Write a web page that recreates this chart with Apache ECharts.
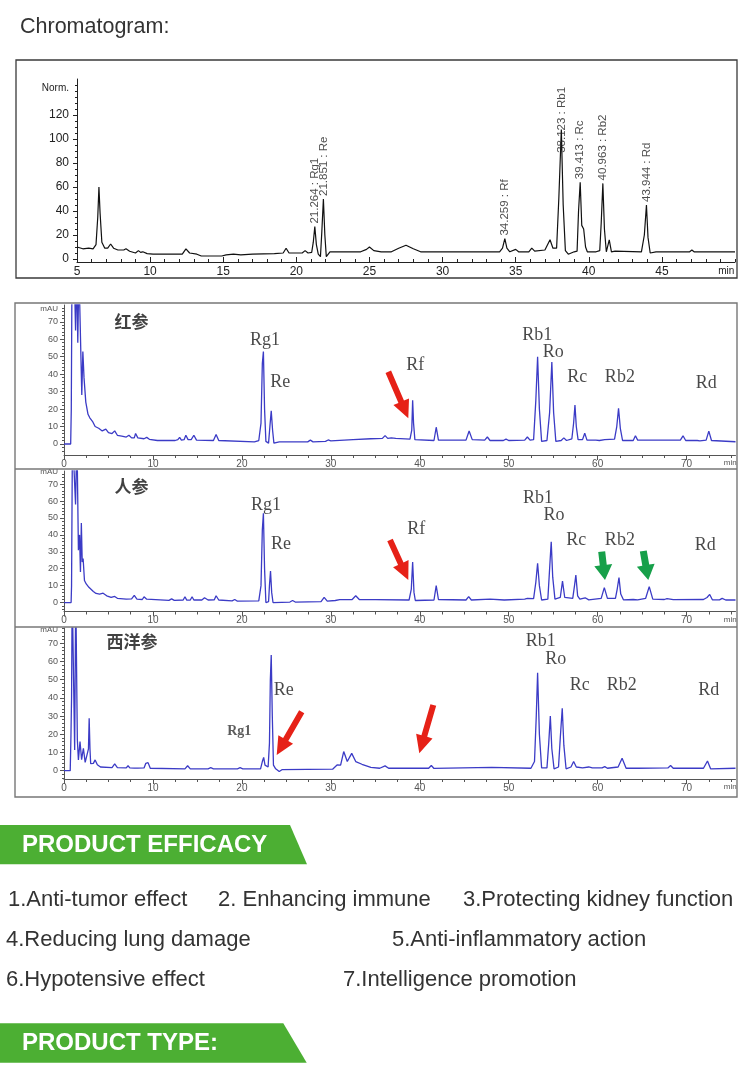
<!DOCTYPE html>
<html>
<head>
<meta charset="utf-8">
<script src="https://cdn.jsdelivr.net/npm/echarts@6/dist/echarts.min.js"></script>
<style>
html,body{margin:0;padding:0;background:#fff;}
#c{width:750px;height:1072px;}
</style>
</head>
<body>
<div id="c"></div>
<script>
// ---------- DATA ----------
// Top chromatogram (Norm.)
const topTrace = [[5,10],[5.4,8.5],[5.8,9],[6.1,8.5],[6.3,12],[6.42,35],[6.5,60],[6.58,38],[6.7,14],[6.9,9],[7.1,9],[7.3,12.5],[7.5,9],[7.8,7.5],[8.2,7.5],[8.35,8.5],[8.6,6.5],[9.0,5],[9.2,7],[9.35,5.5],[9.5,6],[9.8,4.5],[10.2,4],[12.2,4],[12.45,8.5],[12.7,5],[13.2,4],[13.5,2.5],[14.9,2.5],[15.2,3.5],[15.7,4],[16.2,3.5],[17,4],[18.5,4.5],[19.1,5],[19.3,9],[19.5,5],[20.4,5],[20.6,7],[20.8,5],[21.05,5.5],[21.16,14],[21.264,27],[21.37,12],[21.5,4],[21.65,2],[21.74,22],[21.851,50],[21.95,20],[22.05,2],[22.3,6],[24.4,6],[24.8,8],[25.0,10],[25.3,7],[25.8,6],[26.5,6],[27.0,9],[27.5,11.5],[28.0,8.5],[28.5,6],[33.9,6],[34.1,9],[34.259,17],[34.4,9],[34.6,6],[35.0,8],[35.2,6],[35.9,6],[36.1,9],[36.3,6.5],[37,7.5],[37.35,16],[37.55,9],[37.8,9],[37.95,50],[38.123,108],[38.25,45],[38.4,7],[38.6,4],[39.0,6],[39.2,6.5],[39.3,40],[39.413,64],[39.52,28],[39.65,25],[39.78,10],[39.9,6],[40.5,6],[40.75,7],[40.85,30],[40.963,63],[41.07,25],[41.2,6],[41.4,16],[41.55,6],[41.8,6.5],[43.6,6],[43.8,20],[43.944,45],[44.05,18],[44.2,5],[44.6,6],[46.9,6],[47.05,7.5],[47.2,6],[50,6]];
const topPeakTimes = [21.264, 21.851, 34.259, 38.123, 39.413, 40.963, 43.944];
const topPeakNames = ['Rg1', 'Re', 'Rf', 'Rb1', 'Rc', 'Rb2', 'Rd'];
const topPeakHeights = [27, 50, 17, 108, 64, 63, 45];
const topXTicks = [5, 10, 15, 20, 25, 30, 35, 40, 45];
const topYTicks = [0, 20, 40, 60, 80, 100, 120];

// 红参
const hongTrace = [[0,0],[0.75,0],[0.82,20],[0.9,100],[1.15,100],[1.3,65],[1.42,100],[1.55,58],[1.68,100],[1.85,100],[2.0,28],[2.12,53],[2.25,38],[2.45,24],[2.7,17],[2.9,15],[3.1,14],[3.2,13],[3.5,10],[3.9,9],[4.3,7.5],[4.7,8.5],[5.0,6.5],[5.4,6],[5.7,7.5],[6.0,5],[6.5,4.5],[7.0,4],[7.3,5],[7.6,3.5],[7.9,3.5],[8.05,6],[8.3,3.5],[9.0,3],[9.3,3.8],[9.6,2.7],[10.5,2],[12.5,2],[12.8,2.5],[13.0,3.8],[13.2,2.2],[13.5,2.5],[13.7,5],[13.95,2.5],[14.3,2.5],[14.6,5],[14.9,2.2],[16.8,2],[17.1,5.5],[17.4,2],[21.4,1.2],[21.9,2],[22.15,12],[22.3,46],[22.42,53],[22.55,20],[22.7,1.5],[23.0,0.5],[23.15,10],[23.3,19],[23.45,8],[23.6,0.5],[24.2,1.2],[27.4,1.2],[27.7,2.2],[28.0,1.2],[29.4,1.5],[29.7,2.3],[30,1.8],[32.5,2.5],[34.5,3],[35.8,3.2],[36.1,4.8],[36.4,3.2],[36.8,3.5],[37.0,4.2],[37.3,3.2],[38.9,2.8],[39.1,8],[39.2,25],[39.3,12],[39.45,2.5],[41.6,2],[41.85,9.6],[42.1,2.2],[45.2,2.2],[45.55,7.4],[45.9,2.5],[47.3,2.2],[47.6,4],[47.9,2],[49.4,2],[49.7,2.8],[50,2],[51.8,2.2],[52.1,4],[52.4,2.2],[52.8,2.5],[53.05,25],[53.25,50],[53.45,20],[53.7,1.5],[54.3,2],[54.6,18],[54.85,47],[55.05,18],[55.3,1.5],[55.9,2],[56.2,3.5],[56.5,2],[57.1,3],[57.3,12],[57.45,22.3],[57.6,10],[57.8,2.5],[58.3,2.5],[58.55,6.2],[58.8,2.2],[59.8,2.2],[60.0,3.2],[60.2,2],[60.8,2.5],[61.9,2.8],[62.15,10],[62.35,20.4],[62.55,9],[62.8,2],[64.0,2],[64.25,4.7],[64.5,2.2],[69.3,2.2],[69.6,4.7],[69.9,2],[71.2,2],[71.35,3],[71.5,1.8],[72.2,2.2],[72.5,7.4],[72.8,2],[75.5,1.3]];
const hongLabels = ['红参', 'Rg1', 'Re', 'Rf', 'Rb1', 'Ro', 'Rc', 'Rb2', 'Rd'];
const hongLabelAt = [[7.6,70.4],[22.6,59.5],[24.3,35.6],[39.5,45.2],[53.2,62.4],[55.0,52.8],[57.7,38.5],[62.5,38.5],[72.2,34.7]];

// 人参
const renTrace = [[0,0],[0.8,0],[0.85,10],[0.95,100],[1.15,100],[1.3,58],[1.45,100],[1.52,100],[1.62,31],[1.75,40],[1.85,18],[1.95,47],[2.05,24],[2.15,26],[2.3,13],[2.5,11],[2.8,9],[3.0,8],[3.3,6.5],[3.6,5.4],[4.0,5],[4.4,5.5],[4.8,4],[5.3,3],[5.7,3.6],[6.0,2.5],[7.0,2],[7.6,2.2],[7.9,4.2],[8.2,2],[8.8,1.8],[9.0,3.4],[9.3,2],[11.8,1.3],[12.1,2.2],[12.4,1.3],[13.4,1.5],[13.6,3.4],[13.8,1.4],[14.2,1.5],[14.4,3.4],[14.6,1.5],[15.5,1.5],[15.8,2.8],[16.2,1.5],[16.9,1.6],[17.1,4],[17.4,1.5],[18.9,1],[19.2,1.8],[19.5,0.8],[21.9,1],[22.15,10],[22.3,43],[22.42,52.8],[22.55,20],[22.7,0],[23.0,0.5],[23.1,10],[23.22,18.6],[23.35,6],[23.5,0],[25.4,0.3],[25.7,1.2],[26.0,0.3],[28.9,0.5],[29.25,3.1],[29.6,0.8],[30.5,1.2],[31,1.7],[32.4,1.8],[32.8,4],[33.2,1.8],[35,1.7],[38.8,1.5],[39.05,8],[39.2,24],[39.35,6],[39.5,1.2],[41.6,1.5],[41.85,10],[42.1,1.8],[45.2,1.5],[45.5,3.5],[45.8,1.5],[47.9,2],[49.5,1.5],[51.8,2],[52.1,2.5],[52.8,2.3],[53.05,12],[53.25,23.2],[53.45,10],[53.7,1.5],[54.4,2],[54.6,20],[54.78,36],[54.95,15],[55.2,2],[55.8,3],[56.05,12.7],[56.3,3],[57.2,2.5],[57.4,10],[57.55,16.3],[57.75,4],[58.0,2],[58.6,2.8],[59.0,1.6],[60.4,2.5],[60.75,8.8],[61.1,2.5],[62.0,2.5],[62.2,8],[62.4,14.7],[62.6,5],[62.9,1.6],[64.0,1.8],[64.2,2.8],[64.5,1.6],[65.4,2.5],[65.8,9.4],[66.2,2],[67.5,1.8],[67.8,2.3],[68.5,1.7],[71.9,1.8],[72.3,3],[72.6,4.8],[72.9,1.6],[73.7,1.6],[74.0,2.5],[74.4,1.5],[75.5,1.5]];
const renLabels = ['人参', 'Rg1', 'Re', 'Rf', 'Rb1', 'Ro', 'Rc', 'Rb2', 'Rd'];
const renLabelAt = [[7.6,68.5],[22.7,57.7],[24.4,34.4],[39.6,43.5],[53.3,61.7],[55.1,51.8],[57.6,37],[62.5,37],[72.1,34]];

// 西洋参
const xiTrace = [[0,0],[0.7,0],[0.78,18.7],[0.85,40],[0.92,100],[1.1,100],[1.2,11.4],[1.32,100],[1.45,100],[1.5,17],[1.62,5.9],[1.8,16],[1.98,6],[2.18,12.3],[2.38,4.5],[2.6,3.5],[2.75,12],[2.83,28.8],[2.92,12],[3.0,3.8],[3.3,4],[3.5,5.9],[3.75,3.2],[4.1,2],[5.4,1.7],[5.7,3.7],[6.0,1.7],[7.0,1.5],[7.2,2.7],[7.4,1.5],[7.9,1.4],[8.05,2.2],[8.3,1.4],[9.0,1.5],[9.2,4],[9.3,3],[9.45,4.4],[9.7,1.3],[13.6,1],[13.9,2.7],[14.2,1],[16.2,1],[16.5,1.6],[16.8,1],[19.5,1],[19.8,1.6],[20.1,1],[22.1,1],[22.3,5],[22.45,7.3],[22.6,3],[22.95,2],[23.1,15],[23.2,50],[23.3,63.6],[23.42,30],[23.55,3],[23.8,1],[24.2,-0.5],[24.5,0.5],[30.2,0.8],[30.7,3.1],[31.1,3],[31.45,10.5],[31.85,5],[32.35,9.5],[32.8,5],[33.5,3.5],[34.5,1.8],[35.5,1.3],[36.1,2.6],[36.5,1.3],[41.0,1.3],[41.3,2.8],[41.6,1.2],[48.1,1.8],[52.5,1.3],[52.9,5],[53.1,30],[53.25,53.8],[53.45,20],[53.7,1.5],[54.3,1.5],[54.5,15],[54.68,30],[54.85,12],[55.1,1],[55.6,2],[55.8,18],[56.02,34.3],[56.2,14],[56.45,1],[57.0,2],[57.3,5],[57.6,2],[58.3,1.5],[59.0,2],[59.4,1.5],[60.5,1.5],[60.8,2.2],[61.1,1.3],[62.3,2],[62.75,6.8],[63.2,1.3],[64.5,1.3],[67.9,1.5],[68.2,2.8],[68.5,1.3],[71.9,1.3],[72.35,5.3],[72.7,1],[75.5,1.3]];
const xiLabels = ['西洋参', 'Rg1', 'Re', 'Rb1', 'Ro', 'Rc', 'Rb2', 'Rd'];
const xiLabelAt = [[7.65,70.9],[19.7,21.4],[24.7,44.3],[53.6,70.9],[55.3,61.2],[58.0,47.1],[62.7,47.1],[72.5,44.3]];

const hplcXTicks = [0, 10, 20, 30, 40, 50, 60, 70];
const hplcYTicks = [0, 10, 20, 30, 40, 50, 60, 70];

const pageTitle = 'Chromatogram:';
const efficacyTitle = 'PRODUCT EFFICACY';
const typeTitle = 'PRODUCT TYPE:';
const efficacyItems = ['1.Anti-tumor effect', '2. Enhancing immune', '3.Protecting kidney function',
  '4.Reducing lung damage', '5.Anti-inflammatory action', '6.Hypotensive effect', '7.Intelligence promotion'];

// ---------- LAYOUT / STYLE ----------
const SANS = 'Liberation Sans, Arial, sans-serif';
const SERIF = 'Liberation Serif, Times New Roman, serif';
const CJK = 'Noto Sans CJK SC, sans-serif';
const TOP_MIN = 49.4, TOP_NORM = 142.5, H_MIN = 74.9, H_MAU = 77.3;

const chart = echarts.init(document.getElementById('c'), null, {renderer: 'canvas', width: 750, height: 1072});

const grids = [
  {left: 77, top: 79, width: 658, height: 183},
  {left: 64, top: 305, width: 671.5, height: 150},
  {left: 64, top: 471, width: 671.5, height: 140.5},
  {left: 64, top: 628, width: 671.5, height: 151}
];
const yRanges = [[-2.5, 150], [-6.3, 79.6], [-5.3, 77.8], [-4.6, 78.4]];

function range(a, b, s) { const r = []; for (let v = a; v <= b + 1e-9; v += s) r.push(+v.toFixed(3)); return r; }

const xAxes = [], yAxes = [];
grids.forEach((g, i) => {
  const isTop = i === 0;
  const col = isTop ? '#222' : '#555';
  xAxes.push({
    type: 'value', gridIndex: i, min: isTop ? 5 : 0, max: isTop ? 50 : 75.5, position: 'bottom',
    splitLine: {show: false},
    axisLine: {show: true, onZero: false, lineStyle: {color: col, width: 1}},
    axisTick: {show: true, inside: isTop, length: 5, lineStyle: {color: col},
      customValues: isTop ? topXTicks : hplcXTicks},
    axisLabel: {
      customValues: isTop ? topXTicks.concat([TOP_MIN]) : hplcXTicks.concat([H_MIN]),
      formatter: v => (v === TOP_MIN || v === H_MIN) ? '{u|min}' : String(v),
      color: isTop ? '#222' : '#555', fontSize: isTop ? 12 : 10, fontFamily: SANS, margin: 4,
      rich: {u: {fontSize: isTop ? 10 : 8, color: col, fontFamily: SANS}}
    }
  });
  xAxes.push({
    type: 'value', gridIndex: i, min: isTop ? 5 : 0, max: isTop ? 50 : 75.5, position: 'bottom',
    splitLine: {show: false}, axisLine: {show: false, onZero: false}, axisLabel: {show: false},
    axisTick: {show: true, inside: isTop, length: 3, lineStyle: {color: col},
      customValues: isTop ? range(5, 50, 1) : range(0, 75, 2.5)}
  });
  yAxes.push({
    type: 'value', gridIndex: i, min: yRanges[i][0], max: yRanges[i][1], position: 'left',
    splitLine: {show: false},
    axisLine: {show: true, onZero: false, lineStyle: {color: col, width: 1}},
    axisTick: {show: true, length: 4, lineStyle: {color: col},
      customValues: isTop ? topYTicks : hplcYTicks},
    axisLabel: {
      customValues: isTop ? topYTicks.concat([TOP_NORM]) : hplcYTicks.concat([H_MAU]),
      formatter: v => (v === TOP_NORM) ? '{u|Norm.}' : (v === H_MAU ? '{u|mAU}' : String(v)),
      color: isTop ? '#222' : '#555', fontSize: isTop ? 12 : 9, fontFamily: SANS, margin: isTop ? 8 : 6,
      rich: {u: {fontSize: isTop ? 10 : 8, color: col, fontFamily: SANS}}
    }
  });
  yAxes.push({
    type: 'value', gridIndex: i, min: yRanges[i][0], max: yRanges[i][1], position: 'left',
    splitLine: {show: false}, axisLine: {show: false, onZero: false}, axisLabel: {show: false},
    axisTick: {show: true, length: 2, lineStyle: {color: col},
      customValues: isTop ? range(0, 145, 5) : range(-4, 78, 2)}
  });
});

const series = [];
series.push({
  type: 'line', xAxisIndex: 0, yAxisIndex: 0, data: topTrace, showSymbol: false, symbol: 'none',
  lineStyle: {color: '#111', width: 1.2}, clip: true, z: 3
});
series.push({
  type: 'scatter', xAxisIndex: 0, yAxisIndex: 0, symbolSize: 0, clip: false, silent: true, z: 4,
  data: topPeakTimes.map((t, k) => ({value: [t, Math.min(topPeakHeights[k], 86)], name: topPeakNames[k]})),
  label: {
    show: true, position: 'top', distance: 3, rotate: 90, align: 'left', verticalAlign: 'middle',
    fontSize: 11.5, fontFamily: SANS, color: '#222',
    formatter: p => p.value[0].toFixed(3) + ' : ' + p.name
  }
});

const hplc = [[hongTrace, hongLabels, hongLabelAt], [renTrace, renLabels, renLabelAt], [xiTrace, xiLabels, xiLabelAt]];
hplc.forEach(([trace, labels, at], k) => {
  const ax = (k + 1) * 2;
  series.push({
    type: 'line', xAxisIndex: ax, yAxisIndex: ax, data: trace, showSymbol: false, symbol: 'none',
    lineStyle: {color: '#3b3bc6', width: 1.3}, clip: true, z: 3
  });
  series.push({
    type: 'scatter', xAxisIndex: ax, yAxisIndex: ax, symbolSize: 0, clip: false, silent: true, z: 4,
    data: labels.map((name, j) => {
      const d = {value: at[j], name};
      if (/[\u4e00-\u9fff]/.test(name)) {
        d.label = {fontFamily: CJK, fontWeight: 'bold', fontSize: 17, color: '#111'};
      } else if (k === 2 && name === 'Rg1') {
        d.label = {fontSize: 14, fontWeight: 'bold', color: '#333'};
      }
      return d;
    }),
    label: {show: true, position: 'inside', fontFamily: SERIF, fontSize: 18, color: '#1a1a1a',
      formatter: p => p.name}
  });
});

// ---------- decorations ----------
function arrowPoly(x1, y1, x2, y2, shaft, headLen, headW) {
  const dx = x2 - x1, dy = y2 - y1, L = Math.hypot(dx, dy), ux = dx / L, uy = dy / L, px = -uy, py = ux;
  const bx = x2 - ux * headLen, by = y2 - uy * headLen;
  return [[x1 + px * shaft / 2, y1 + py * shaft / 2], [bx + px * shaft / 2, by + py * shaft / 2],
    [bx + px * headW / 2, by + py * headW / 2], [x2, y2], [bx - px * headW / 2, by - py * headW / 2],
    [bx - px * shaft / 2, by - py * shaft / 2], [x1 - px * shaft / 2, y1 - py * shaft / 2]];
}
const RED = '#e62117', GREEN = '#17a04a', BANNER = '#4caf33';
const arrows = [
  [388.3, 371.7, 408.3, 418.3, RED], [390, 540, 408.3, 580, RED],
  [601.7, 551.7, 605, 580, GREEN], [643.3, 551, 648.3, 580, GREEN],
  [301.7, 711.7, 276.7, 755, RED], [433.3, 705, 419.3, 753.3, RED]
];
const graphics = [];
graphics.push({type: 'rect', shape: {x: 16, y: 60, width: 721, height: 218}, style: {fill: 'none', stroke: '#3a3a3a', lineWidth: 1.3}, z: 10});
graphics.push({type: 'rect', shape: {x: 15, y: 303, width: 722, height: 494}, style: {fill: 'none', stroke: '#777', lineWidth: 1.4}, z: 10});
graphics.push({type: 'line', shape: {x1: 15, y1: 469, x2: 737, y2: 469}, style: {stroke: '#777', lineWidth: 1.4}, z: 10});
graphics.push({type: 'line', shape: {x1: 15, y1: 627, x2: 737, y2: 627}, style: {stroke: '#777', lineWidth: 1.4}, z: 10});
arrows.forEach(a => {
  const g = a[4] === GREEN;
  graphics.push({type: 'polygon', shape: {points: arrowPoly(a[0], a[1], a[2], a[3], g ? 7 : 6, g ? 15 : 18, g ? 18 : 17)},
    style: {fill: a[4]}, z: 20});
});
function text(t, x, y, size, opts) {
  return Object.assign({type: 'text', z: 20, style: Object.assign({
    text: t, x, y, fontSize: size, fontFamily: SANS, fill: '#333',
    textAlign: 'left', align: 'left', textVerticalAlign: 'middle', verticalAlign: 'middle'
  }, opts || {})});
}
graphics.push(text(pageTitle, 20, 27, 21.5));
graphics.push({type: 'polygon', shape: {points: [[0, 825], [290, 825], [307, 864.3], [0, 864.3]]}, style: {fill: BANNER}, z: 5});
graphics.push(text(efficacyTitle, 22, 845, 24, {fill: '#fff', fontWeight: 'bold'}));
graphics.push({type: 'polygon', shape: {points: [[0, 1023.3], [283.3, 1023.3], [306.7, 1062.7], [0, 1062.7]]}, style: {fill: BANNER}, z: 5});
graphics.push(text(typeTitle, 22, 1043, 24, {fill: '#fff', fontWeight: 'bold'}));
const itemPos = [[8, 900], [218, 900], [463, 900], [6, 940], [392, 940], [6, 980], [343, 980]];
efficacyItems.forEach((t, i) => graphics.push(text(t, itemPos[i][0], itemPos[i][1], 22)));

chart.setOption({
  animation: false,
  backgroundColor: '#fff',
  grid: grids,
  xAxis: xAxes,
  yAxis: yAxes,
  series,
  graphic: {elements: graphics}
});
</script>
</body>
</html>
